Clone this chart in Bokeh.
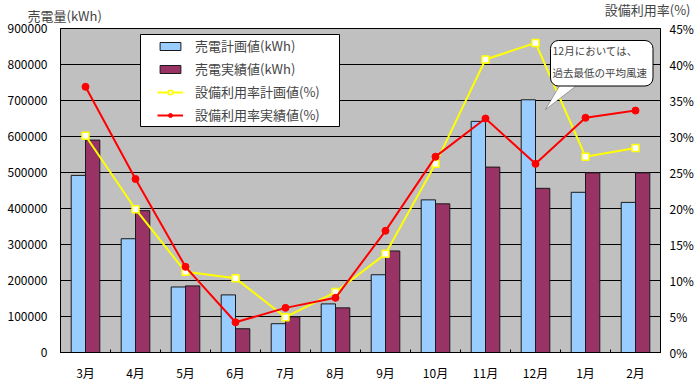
import numpy as np
from bokeh.plotting import figure
from bokeh.models import (LinearAxis, Range1d, FixedTicker, BasicTickFormatter,
                          PrintfTickFormatter, Legend, LegendItem, Label, PolyAnnotation,
                          BoxAnnotation, Title)
from bokeh.embed import file_html
from bokeh.resources import INLINE

months = ["3月", "4月", "5月", "6月", "7月", "8月", "9月", "10月", "11月", "12月", "1月", "2月"]
plan_kwh = [492000, 316000, 182000, 160000, 80000, 135000, 216000, 424000, 642000, 702000, 445000, 417000]
actual_kwh = [590000, 394000, 185000, 66000, 99000, 124000, 282000, 413000, 515000, 456000, 499000, 499000]
plan_rate = [30.1, 19.9, 11.2, 10.3, 4.9, 8.4, 13.7, 26.2, 40.7, 43.0, 27.2, 28.4]
actual_rate = [36.9, 24.1, 11.9, 4.2, 6.2, 7.6, 16.9, 27.2, 32.5, 26.2, 32.6, 33.6]
left_ticks = list(range(0, 900001, 100000))
right_ticks = list(range(0, 46, 5))
left_title = "売電量(kWh)"
right_title = "設備利用率(%)"

FONT = "Noto Sans CJK JP"
x = np.arange(len(months)) + 0.5
bw = 0.286

p = figure(frame_width=600, frame_height=324, output_backend="svg", toolbar_location=None,
           x_range=Range1d(0, len(months)), y_range=Range1d(0, 900000),
           min_border_left=60, min_border_top=28, min_border_right=32, min_border_bottom=34)
p.background_fill_color = "#C0C0C0"
p.border_fill_color = "white"
p.outline_line_color = "black"
p.outline_line_width = 1
p.extra_y_ranges = {"pct": Range1d(0, 45)}

# bars
r_plan = p.vbar(x=x - bw / 2, top=plan_kwh, width=bw, fill_color="#99CCFF", line_color="#1a1a1a", line_width=1)
r_act = p.vbar(x=x + bw / 2, top=actual_kwh, width=bw, fill_color="#993366", line_color="#1a1a1a", line_width=1)

# lines
l_plan = p.line(x, plan_rate, y_range_name="pct", line_color="#FFFF00", line_width=2)
s_plan = p.scatter(x, plan_rate, y_range_name="pct", marker="square", size=7,
                   fill_color="white", line_color="#FFFF00", line_width=1.5)
l_act = p.line(x, actual_rate, y_range_name="pct", line_color="#FF0000", line_width=2)
s_act = p.scatter(x, actual_rate, y_range_name="pct", marker="circle", size=7,
                  fill_color="#FF0000", line_color="#FF0000")

# axes
p.xaxis.ticker = FixedTicker(ticks=list(x), minor_ticks=list(range(0, len(months) + 1)))
p.xaxis.major_label_overrides = {float(v): m for v, m in zip(x, months)}
p.xaxis.major_tick_in = 0
p.xaxis.major_tick_out = 0
p.xaxis.minor_tick_in = 3
p.xaxis.minor_tick_out = 0
p.xaxis.minor_tick_line_color = "black"
p.xaxis.major_label_standoff = 11
p.xgrid.grid_line_color = None

p.yaxis.ticker = FixedTicker(ticks=left_ticks)
p.yaxis.formatter = BasicTickFormatter(use_scientific=False)
p.yaxis.major_tick_in = 0
p.yaxis.major_tick_out = 0
p.yaxis.minor_tick_line_color = None
p.yaxis.major_label_standoff = 13
p.ygrid.grid_line_color = "black"
p.ygrid.grid_line_width = 1
p.ygrid.ticker = FixedTicker(ticks=left_ticks)

raxis = LinearAxis(y_range_name="pct", ticker=FixedTicker(ticks=right_ticks),
                   formatter=PrintfTickFormatter(format="%d%%"))
raxis.major_tick_in = 0
raxis.major_tick_out = 0
raxis.minor_tick_line_color = None
raxis.major_label_standoff = 9
p.add_layout(raxis, "right")

for ax in [p.xaxis[0], p.yaxis[0], raxis]:
    ax.axis_line_color = "black"
    ax.major_label_text_font = FONT
    ax.major_label_text_font_size = "12px"
    ax.major_label_text_color = "black"

# legend box
p.add_layout(BoxAnnotation(left=80, right=279, top=318, bottom=226,
                           left_units="screen", right_units="screen", top_units="screen", bottom_units="screen",
                           fill_color="white", fill_alpha=1, line_color="black", line_width=1, line_alpha=1))

legend = Legend(items=[
    LegendItem(label="売電計画値(kWh)", renderers=[r_plan]),
    LegendItem(label="売電実績値(kWh)", renderers=[r_act]),
    LegendItem(label="設備利用率計画値(%)", renderers=[l_plan, s_plan]),
    LegendItem(label="設備利用率実績値(%)", renderers=[l_act, s_act]),
], location=(97, 228))
legend.label_text_font = FONT
legend.label_text_font_size = "13px"
legend.padding = 0
legend.spacing = 4
legend.label_height = 19
legend.glyph_height = 10
legend.glyph_width = 26
legend.label_standoff = 12
legend.border_line_color = None
legend.background_fill_alpha = 0
legend.margin = 0
p.add_layout(legend, "center")

# axis titles in the top panel
p.add_layout(Label(x=-33, y=13, x_units="screen", y_units="screen", text=left_title,
                   text_font=FONT, text_font_size="13px", text_baseline="middle", text_align="left"), "above")
p.add_layout(Title(text=right_title, align="right", offset=-30, standoff=-19, vertical_align="bottom",
                   text_font=FONT, text_font_size="13px", text_font_style="normal",
                   text_baseline="alphabetic"), "above")

# callout
p.add_layout(PolyAnnotation(xs=[507, 485, 533], ys=[280, 243, 280], xs_units="screen", ys_units="screen",
                            fill_color="white", fill_alpha=1, line_color="black", line_width=1))
p.add_layout(Label(x=490, y=312, x_units="screen", y_units="screen",
                   text="12月においては、\n過去最低の平均風速",
                   text_font=FONT, text_font_size="10.5px", text_align="left", text_baseline="top",
                   text_line_height=1.5,
                   background_fill_color="white", background_fill_alpha=1,
                   border_line_color="black", border_line_width=1, border_radius=8,
                   padding=(2, 6, 2, 6)))

open("out.html", "w").write(file_html(p, INLINE))
